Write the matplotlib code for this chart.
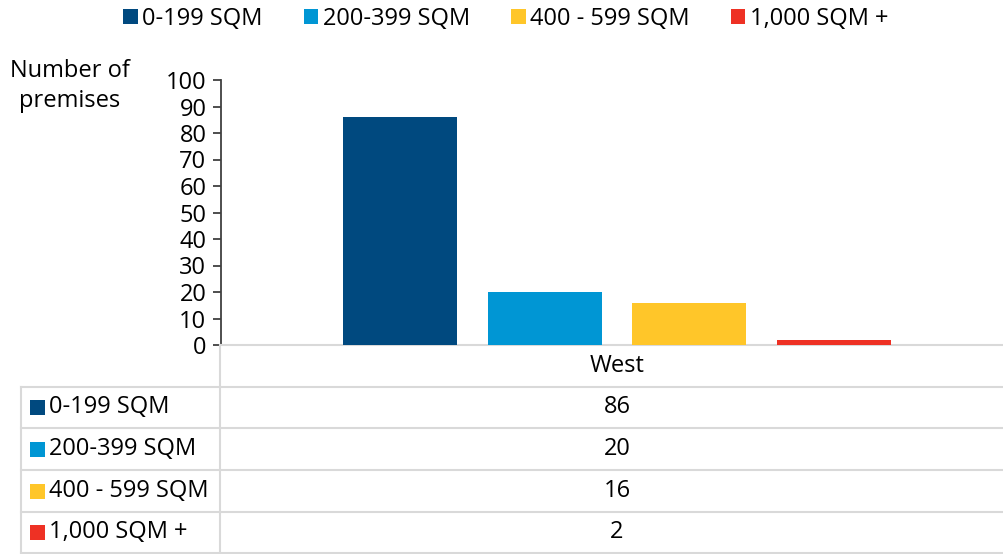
import matplotlib
matplotlib.use("Agg")
import matplotlib.pyplot as plt
from matplotlib.patches import Patch, Rectangle
from matplotlib.lines import Line2D
import matplotlib.transforms as mtransforms

# ---- data ----
region = "West"
categories = ["0-199 SQM", "200-399 SQM", "400 - 599 SQM", "1,000 SQM +"]
values = [86, 20, 16, 2]
colors = ["#00497F", "#0096D4", "#FFC629", "#EE3124"]
y_ticks = [0, 10, 20, 30, 40, 50, 60, 70, 80, 90, 100]
y_label = "Number of\npremises"

plt.rcParams["font.family"] = ["Open Sans", "DejaVu Sans"]
FS = 17
W, H = 1004, 554
fig = plt.figure(figsize=(W / 100, H / 100), dpi=100)

def fx(px):
    return px / W

def fy(py):
    return 1 - py / H

left, right, top, bottom = 221, 1013, 80, 345
ax = fig.add_axes([fx(left), fy(bottom), fx(right) - fx(left), fy(top) - fy(bottom)])

n = len(values)
step = 144.5 / (right - left)
width = 114 / (right - left)
offsets = [(i - (n - 1) / 2) * step for i in range(n)]
ax.bar(offsets, values, width=width, color=colors, zorder=3)
ax.set_xlim(-0.5, 0.5)
ax.set_ylim(0, 100)
ax.set_yticks(y_ticks)
ax.set_yticklabels([str(t) for t in y_ticks], fontsize=FS)
ax.set_xticks([])
for s in ["top", "right"]:
    ax.spines[s].set_visible(False)
ax.spines["left"].set_color("#404040")
ax.spines["left"].set_linewidth(1.3)
ax.spines["bottom"].set_color("#d9d9d9")
ax.spines["bottom"].set_linewidth(1.5)
ax.tick_params(axis="y", direction="out", length=5.5, width=1.3, color="#404040", pad=5)

# category header
trans = mtransforms.blended_transform_factory(ax.transData, fig.transFigure)
fig.text(0, fy(366), region, transform=trans, ha="center", va="center", fontsize=FS)

# y label
fig.text(fx(70), fy(86), y_label, ha="center", va="center", fontsize=FS, linespacing=1.35)

# legend
handles = [Patch(facecolor=c, edgecolor="none") for c in colors]
fig.legend(handles, categories, loc="center", bbox_to_anchor=(fx(506), fy(19)), ncol=4,
           frameon=False, fontsize=FS, handlelength=0.6, handleheight=0.6,
           handletextpad=0.2, columnspacing=1.75, borderaxespad=0)

# data table
gc = "#d9d9d9"
lw = 1.5
row_lines = [386.5, 428, 470, 512, 553]
for yy in row_lines:
    fig.add_artist(Line2D([fx(21), fx(1010)], [fy(yy), fy(yy)], color=gc, lw=lw))
fig.add_artist(Line2D([fx(220), fx(220)], [fy(345), fy(553)], color=gc, lw=lw))
fig.add_artist(Line2D([fx(21), fx(21)], [fy(386.5), fy(553)], color=gc, lw=lw))

for i, (cat, val, col) in enumerate(zip(categories, values, colors)):
    yc = (row_lines[i] + row_lines[i + 1]) / 2
    fig.add_artist(Rectangle((fx(30), fy(yc + 7.5)), 15 / W, 15 / H, facecolor=col,
                             edgecolor="none", transform=fig.transFigure))
    fig.text(fx(49), fy(yc), cat, ha="left", va="center", fontsize=FS)
    fig.text(0, fy(yc), str(val), transform=trans, ha="center", va="center", fontsize=FS)

fig.savefig("out.png", dpi=100)
